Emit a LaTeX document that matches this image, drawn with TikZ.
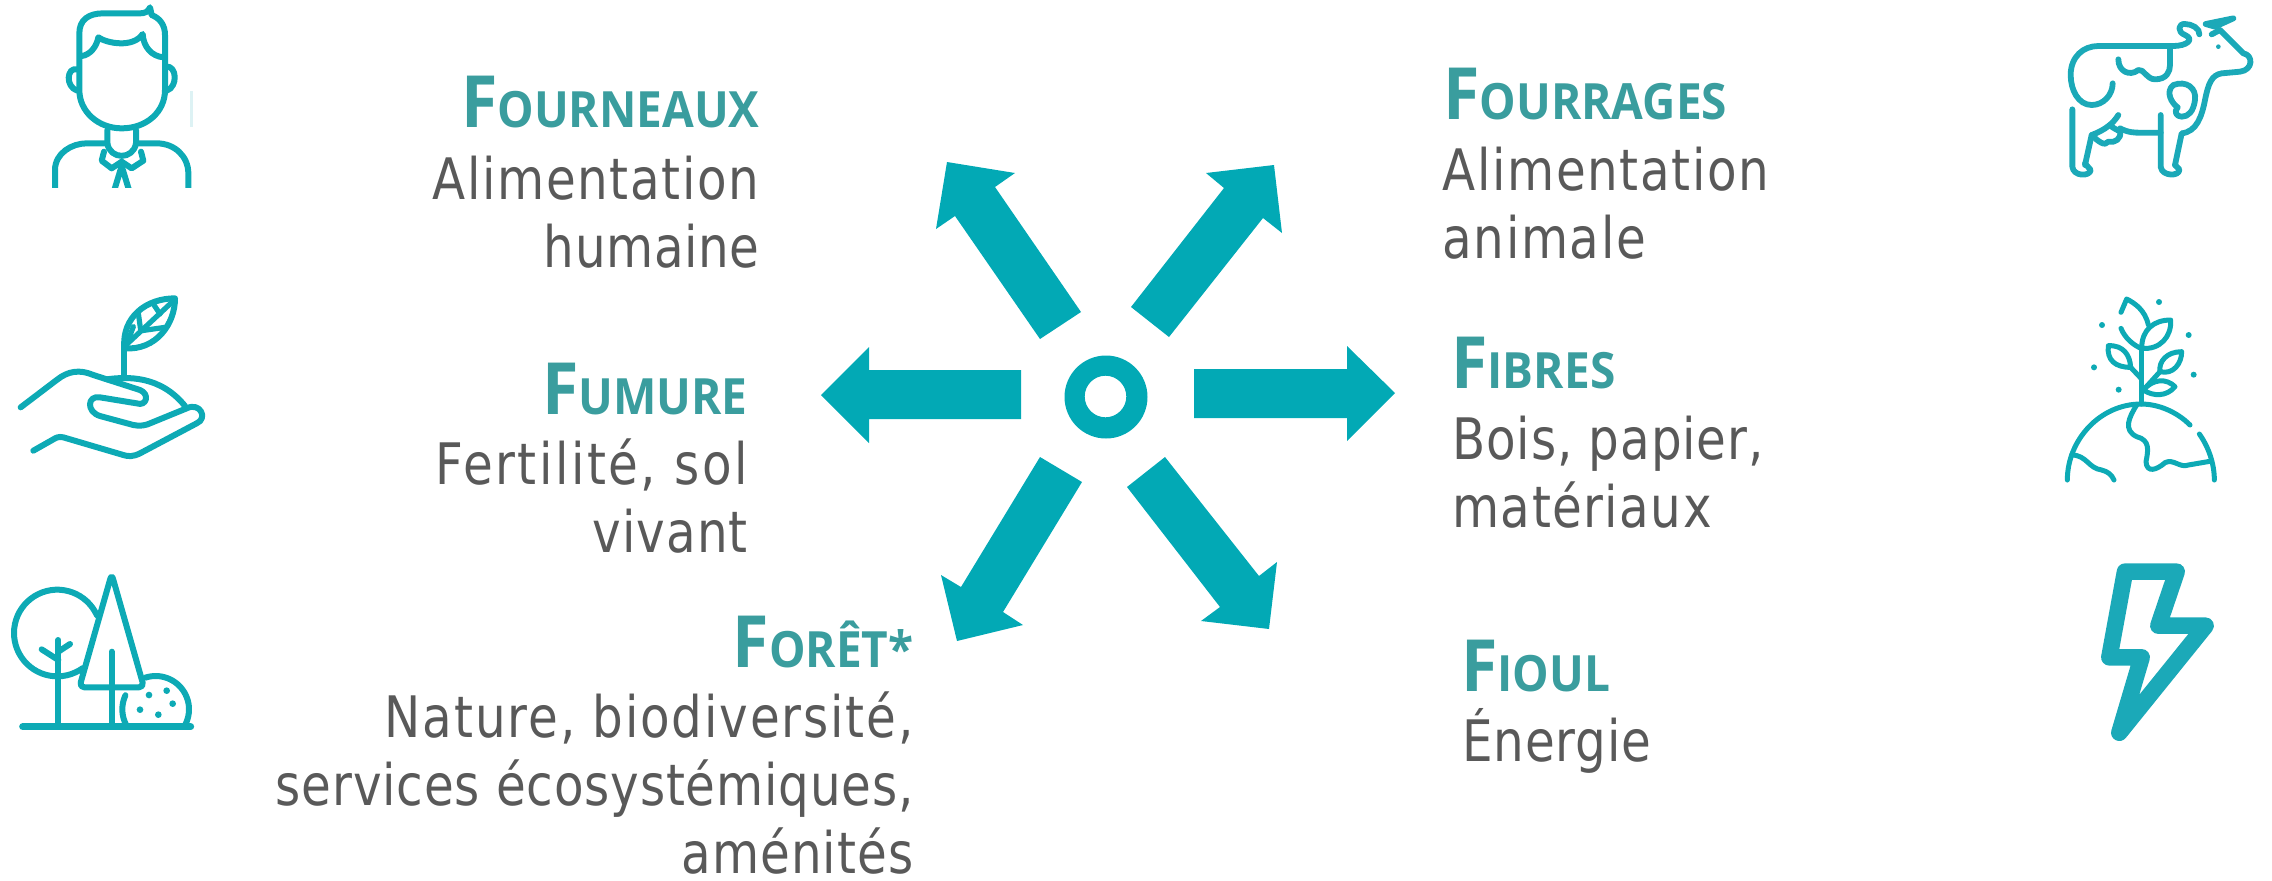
\documentclass[tikz,border=0pt]{standalone}
\usepackage{fontspec}
\setmainfont{DejaVu Sans}
\newfontfamily\bodyf{DejaVu Sans}[FakeStretch=0.846]
\newfontfamily\titlef{Open Sans}[FakeStretch=0.92]
\definecolor{arrowc}{HTML}{02A9B5}
\definecolor{iconc}{HTML}{0DAAB5}
\definecolor{iconb}{HTML}{1BA9B8}
\definecolor{titlec}{HTML}{3A9D9E}
\definecolor{bodyc}{HTML}{595959}
\definecolor{palec}{HTML}{DDF2F4}
\newcommand{\ttl}[2]{{\fontsize{36}{36}\selectfont\bfseries #1}{\fontsize{25}{25}\selectfont\bfseries #2}}
\newcommand{\ls}[2]{{\addfontfeature{LetterSpace=#1}#2}}
\tikzset{
  bigarrow/.style={fill=arrowc,draw=none},
  icon/.style={draw=iconc,line width=3pt,line cap=round,line join=round,fill=none},
  iconcow/.style={draw=iconb,line width=2.9pt,line cap=round,line join=round,fill=none},
  iconplant/.style={draw=iconc,line width=2.5pt,line cap=round,line join=round,fill=none},
  titleleft/.style={anchor=base west,inner sep=0pt,text=titlec,font=\titlef},
  titleright/.style={anchor=base east,inner sep=0pt,text=titlec,font=\titlef},
  bodyleft/.style={anchor=base west,inner sep=0pt,text=bodyc,align=left,font=\bodyf\fontsize{28.6}{34}\selectfont},
  bodyright/.style={anchor=base east,inner sep=0pt,text=bodyc,align=right,font=\bodyf\fontsize{28.6}{34}\selectfont},
  icondot/.style={fill=iconc,draw=none}
}
\begin{document}
\begin{tikzpicture}[x=0.5pt,y=-0.5pt]
\useasboundingbox (0,0) rectangle (2272,880);
% arrows
\fill[bigarrow] (947,162)--(1015,173)--(995,187)--(1081,312)--(1040,339)--(955,216)--(936,229)--cycle;
\fill[bigarrow] (1274,165)--(1282,233)--(1263,218)--(1169,337)--(1131,307)--(1224,188)--(1206,173)--cycle;
\fill[bigarrow] (821,395)--(869,347)--(869,370)--(1021,370)--(1021,419)--(869,419)--(869,443)--cycle;
\fill[bigarrow] (1194,369)--(1347,369)--(1347,346)--(1395,393)--(1347,441)--(1347,418)--(1194,418)--cycle;
\fill[bigarrow] (1040,457)--(1082,482)--(1003,612)--(1023,625)--(957,641)--(941,575)--(961,587)--cycle;
\fill[bigarrow] (1165,457)--(1259,576)--(1277,562)--(1269,629)--(1201,621)--(1220,607)--(1127,487)--cycle;
\fill[bigarrow,even odd rule] (1106,397) circle[radius=41.5] (1105.5,396.5) circle[radius=20.8];
% texts
\node[titleright] (t1) at (760,127) {\ttl{F}{OURNEAUX}};
\node[bodyright] (b1) at (760,267) {\ls{2.9}{Alimentation}\\\ls{1.1}{humaine}};
\node[titleright] (t2) at (748,414) {\ttl{F}{UMURE}};
\node[bodyright] (b2) at (748,552) {\ls{4.4}{Fertilité, sol}\\\ls{1.7}{vivant}};
\node[titleright] (t3) at (914,667) {\ttl{F}{ORÊT*}};
\node[bodyright] (b3) at (914,873) {\ls{3.2}{Nature, biodiversité,}\\\ls{1.4}{services écosystémiques,}\\\ls{1.9}{aménités}};
\node[titleleft] (t4) at (1443,119) {\ttl{F}{OURRAGES}};
\node[bodyleft] (b4) at (1442,258) {\ls{2.9}{Alimentation}\\\ls{2.9}{animale}};
\node[titleleft] (t5) at (1451,388) {\ttl{F}{IBRES}};
\node[bodyleft] (b5) at (1452,527) {\ls{1.5}{Bois, papier,}\\\ls{2.5}{matériaux}};
\node[titleleft] (t6) at (1461,691) {\ttl{F}{IOUL}};
\node[bodyleft] (b6) at (1462,761) {\ls{1.4}{Énergie}};
% person
\fill[palec] (190,91) rectangle (193,127);
\begin{scope}[shift={(0,0)},x=0.16667pt,y=-0.16667pt]
\draw[icon] (238,170) -- (238,100) .. controls (238,60) and (265,40) .. (310,40) -- (420,40) .. controls (435,40) and (445,35) .. (450,22) -- (455,45) .. controls (480,55) and (495,75) .. (495,105) -- (495,270) .. controls (495,335) and (440,385) .. (365,385) .. controls (295,385) and (238,335) .. (238,270) -- cycle;
\draw[icon] (245,168) .. controls (270,165) and (290,140) .. (295,112) .. controls (320,130) and (400,145) .. (428,102) .. controls (430,140) and (455,170) .. (492,172);
\draw[icon] (232,208) .. controls (200,200) and (195,260) .. (232,272);
\draw[icon] (498,200) .. controls (530,195) and (535,260) .. (500,272);
\draw[icon] (322,390) -- (322,430) .. controls (330,480) and (400,480) .. (408,430) -- (408,390);
\begin{scope}
\clip (100,380) rectangle (620,563);
\draw[icon] (165,580) -- (165,510) .. controls (165,460) and (215,430) .. (260,430) -- (322,430);
\draw[icon] (408,430) -- (470,430) .. controls (525,430) and (565,470) .. (565,520) -- (565,580);
\draw[icon] (312,455) -- (305,482) -- (335,505) -- (365,485) -- (395,505) -- (430,482) -- (423,455);
\draw[icon] (340,580) -- (365,498) -- (390,580);
\end{scope}
\end{scope}
% hand
\begin{scope}[shift={(0,280)},x=0.16667pt,y=-0.16667pt]
\draw[icon] (62,382) -- (170,300) .. controls (205,272) and (240,268) .. (280,285) -- (420,330) .. controls (450,342) and (440,380) .. (410,370) -- (300,352) .. controls (262,345) and (258,395) .. (300,408) -- (400,435) .. controls (420,440) and (440,435) .. (450,430) -- (560,385) .. controls (600,365) and (625,415) .. (590,430) -- (420,520) .. controls (400,530) and (385,530) .. (370,525) -- (190,472) .. controls (175,468) and (165,475) .. (160,478) -- (100,512);
\draw[icon] (320,298) .. controls (380,290) and (480,285) .. (555,378);
\draw[icon] (373,290) -- (373,190);
\draw[icon] (373,205) .. controls (365,110) and (440,55) .. (525,55) .. controls (525,130) and (470,212) .. (373,205);
\draw[icon,line width=2.6pt] (378,195) -- (525,58);
\draw[icon,line width=2.6pt] (415,100) -- (422,150);
\draw[icon,line width=2.6pt] (400,140) -- (385,180);
\draw[icon,line width=2.6pt] (462,75) -- (480,102);
\draw[icon,line width=2.6pt] (425,152) -- (495,142);
\end{scope}
% trees
\begin{scope}[shift={(0,550)},x=0.16667pt,y=-0.16667pt]
\draw[icon] plot[domain=24:306,samples=50,smooth] ({172+130*cos(\x)},{249-130*sin(\x)});
\draw[icon] (175,270) -- (175,525);
\draw[icon] (125,298) -- (175,330);
\draw[icon] (210,282) -- (175,305);
\draw[icon,rounded corners=2.5pt] (238,412) -- (335,72) -- (432,412) -- cycle;
\draw[icon] (335,305) -- (335,525);
\draw[icon] plot[domain=-31:108,samples=30,smooth] ({467+100*cos(\x)},{478-100*sin(\x)});
\draw[icon] plot[domain=155:208,samples=12,smooth] ({467+100*cos(\x)},{478-100*sin(\x)});
\draw[icon,line width=3.5pt] (68,530) -- (572,530);
\foreach \p in {(447,435),(500,422),(518,461),(420,479),(475,494)} \fill[icondot] \p circle[radius=10];
\end{scope}
% cow
\begin{scope}[shift={(2040,0)},x=0.16667pt,y=-0.16667pt]
\draw[iconcow] (218,250) .. controls (218,285) and (190,315) .. (155,315) .. controls (115,315) and (92,270) .. (92,225) .. controls (92,170) and (130,138) .. (175,138) -- (400,138) .. controls (440,138) and (465,118) .. (435,105) .. controls (410,95) and (415,70) .. (435,72) .. controls (455,72) and (480,85) .. (478,103);
\draw[iconcow] (235,178) .. controls (235,215) and (270,230) .. (295,210) .. controls (310,205) and (320,238) .. (345,238) .. controls (380,238) and (390,215) .. (390,195) -- (390,145);
\draw[iconcow] (97,328) -- (97,500) .. controls (100,530) and (150,530) .. (152,510) -- (135,490);
\draw[iconcow] (135,495) -- (155,405) .. controls (195,390) and (220,370) .. (235,345);
\draw[iconcow] (155,405) .. controls (175,425) and (195,440) .. (205,425) .. controls (225,430) and (245,415) .. (240,395) .. controls (225,385) and (220,385) .. (215,380);
\draw[iconcow] (240,385) .. controls (265,398) and (285,398) .. (300,398) -- (362,398);
\draw[iconcow] (362,345) -- (362,500) .. controls (365,530) and (420,530) .. (418,508) -- (405,495);
\draw[iconcow] (405,495) -- (425,400) .. controls (470,395) and (485,350) .. (495,300) .. controls (505,250) and (515,225) .. (545,220) -- (600,215) .. controls (640,210) and (640,165) .. (610,160) -- (540,90) -- (515,103);
\draw[iconcow] (497,72) -- (580,55) -- (525,80) -- cycle;
\fill[iconb] (535,140) circle[radius=7];
\draw[iconcow] (400,255) .. controls (440,240) and (470,265) .. (465,300) .. controls (460,335) and (445,350) .. (425,350) .. controls (410,350) and (400,335) .. (413,322) .. controls (395,310) and (375,275) .. (400,255) -- cycle;
\end{scope}
% plant
\begin{scope}[shift={(2040,280)},x=0.16667pt,y=-0.16667pt]
\draw[iconplant] (82,600) .. controls (82,480) and (180,372) .. (303,372) .. controls (355,372) and (410,395) .. (450,435);
\draw[iconplant] (478,462) .. controls (505,500) and (523,550) .. (523,600);
\draw[iconplant] (290,375) .. controls (265,415) and (250,450) .. (290,470) .. controls (330,480) and (325,510) .. (318,545) .. controls (320,580) and (350,570) .. (375,548) .. controls (400,535) and (420,565) .. (445,555) -- (515,543);
\draw[iconplant] (95,525) .. controls (140,525) and (145,565) .. (185,570) .. controls (205,575) and (215,585) .. (222,600);
\draw[iconplant] (303,372) -- (303,205);
\draw[iconplant] (305,205) .. controls (305,150) and (340,120) .. (392,120) .. controls (395,170) and (360,210) .. (305,205);
\draw[iconplant] (325,135) .. controls (315,90) and (285,70) .. (260,57) -- (243,97);
\draw[iconplant] (243,145) .. controls (255,175) and (280,195) .. (303,205);
\draw[iconplant] (205,197) .. controls (250,195) and (270,225) .. (272,262) .. controls (225,262) and (200,240) .. (205,197);
\draw[iconplant] (272,262) -- (303,295);
\draw[iconplant] (425,215) .. controls (380,215) and (355,245) .. (360,275) .. controls (400,285) and (425,250) .. (425,215);
\draw[iconplant] (360,275) -- (310,330);
\draw[iconplant] (310,330) .. controls (340,295) and (380,295) .. (405,320) .. controls (380,350) and (340,350) .. (310,330);
\foreach \p in {(357,66),(186,135),(446,165),(162,262),(461,284),(236,329)} \fill[icondot] \p circle[radius=9];
\end{scope}
% bolt
\begin{scope}[shift={(2040,540)},x=0.16667pt,y=-0.16667pt]
\draw[iconb,line width=8.3pt,line join=round,fill=none] (255,95) -- (410,95) -- (355,257) -- (497,257) -- (238,578) -- (305,352) -- (208,352) -- cycle;
\end{scope}
\end{tikzpicture}
\end{document}
